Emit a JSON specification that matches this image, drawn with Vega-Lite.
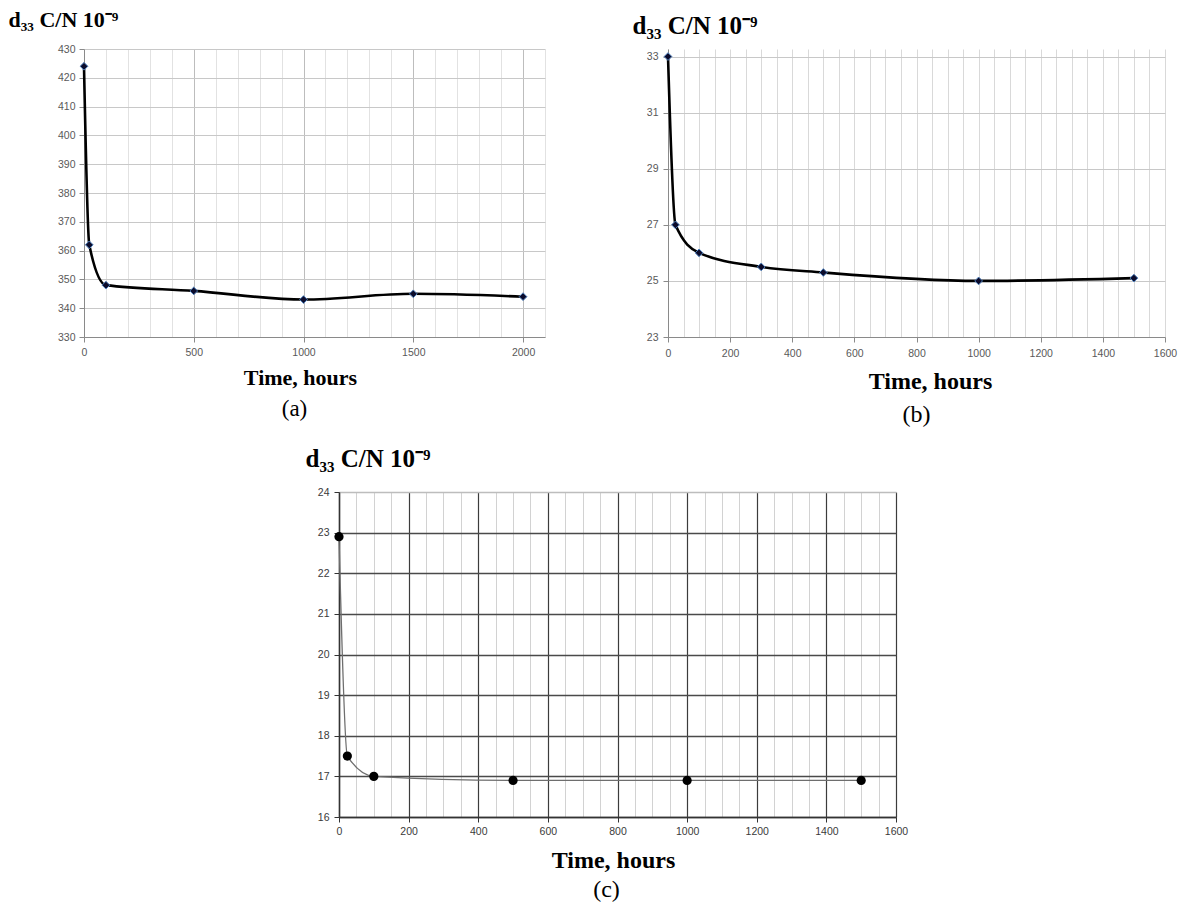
{
  "$schema": "https://vega.github.io/schema/vega-lite/v6.json",
  "background": "white",
  "padding": {"left": 8, "top": 8, "right": 2, "bottom": 0},
  "config": {"view": {"stroke": null}},
  "datasets": {
    "a": [
      {"t": 0, "d": 424}, {"t": 24, "d": 362}, {"t": 100, "d": 348}, {"t": 500, "d": 346},
      {"t": 1000, "d": 343}, {"t": 1500, "d": 345}, {"t": 2000, "d": 344}
    ],
    "b": [
      {"t": 0, "d": 33}, {"t": 24, "d": 27}, {"t": 100, "d": 26}, {"t": 300, "d": 25.5},
      {"t": 500, "d": 25.3}, {"t": 1000, "d": 25.0}, {"t": 1500, "d": 25.1}
    ],
    "c": [
      {"t": 0, "d": 22.9}, {"t": 24, "d": 17.5}, {"t": 100, "d": 17.0},
      {"t": 500, "d": 16.9}, {"t": 1000, "d": 16.9}, {"t": 1500, "d": 16.9}
    ]
  },
  "spacing": 19,
  "vconcat": [
    {
      "bounds": "flush",
      "spacing": 123,
      "hconcat": [
        {
          "width": 461, "height": 288,
          "data": {"name": "a"},
          "title": {"text": "(a)", "orient": "bottom", "anchor": "middle", "frame": "group", "font": "Liberation Serif", "fontSize": 23, "fontWeight": "normal", "color": "black", "offset": 10, "dx": -20},
          "encoding": {
            "x": {"field": "t", "type": "quantitative", "scale": {"domain": [0, 2100], "nice": false, "zero": false},
              "axis": {"values": [0,100,200,300,400,500,600,700,800,900,1000,1100,1200,1300,1400,1500,1600,1700,1800,1900,2000,2100],
                "format": "d", "labelExpr": "datum.value % 500 === 0 ? datum.label : ''",
                "labelFlush": false, "labelOverlap": false, "labelFont": "Liberation Sans", "labelFontSize": 10.5, "labelColor": "#595959", "labelPadding": 5,
                "tickSize": 5, "tickColor": "#8a8a8a", "tickOpacity": {"condition": {"test": "datum.value % 500 === 0", "value": 1}, "value": 0},
                "domainColor": "#8a8a8a",
                "gridColor": {"condition": {"test": "datum.value % 500 === 0", "value": "#bdbdbd"}, "value": "#e2e2e2"},
                "title": "Time, hours", "titleFont": "Liberation Serif", "titleFontSize": 22, "titleFontWeight": "bold", "titleColor": "black",
                "titleX": 216, "titleY": 47, "titleAlign": "center", "titleBaseline": "alphabetic"}},
            "y": {"field": "d", "type": "quantitative", "scale": {"domain": [330, 430], "nice": false, "zero": false},
              "axis": {"values": [330,340,350,360,370,380,390,400,410,420,430], "format": "d",
                "labelFont": "Liberation Sans", "labelFontSize": 10.5, "labelColor": "#595959", "labelPadding": 4,
                "tickSize": 5, "tickColor": "#8a8a8a", "domainColor": "#8a8a8a", "gridColor": "#c8c8c8",
                "title": "d₃₃ C/N 10⁻⁹", "titleFont": "Liberation Serif", "titleFontSize": 22, "titleFontWeight": "bold", "titleColor": "black",
                "titleAngle": 0, "titleAlign": "left", "titleBaseline": "alphabetic", "titleX": -76, "titleY": -23}}
          },
          "layer": [
            {"mark": {"type": "line", "interpolate": "monotone", "color": "black", "strokeWidth": 2.6}},
            {"mark": {"type": "point", "shape": "diamond", "filled": true, "size": 60, "fill": "#0b0b2b", "stroke": "#4f81bd", "strokeWidth": 1, "opacity": 1}}
          ]
        },
        {
          "width": 497, "height": 288,
          "data": {"name": "b"},
          "title": {"text": "(b)", "orient": "bottom", "anchor": "middle", "frame": "group", "font": "Liberation Serif", "fontSize": 24, "fontWeight": "normal", "color": "black", "offset": 10, "dx": 0},
          "encoding": {
            "x": {"field": "t", "type": "quantitative", "scale": {"domain": [0, 1600], "nice": false, "zero": false},
              "axis": {"values": [0,50,100,150,200,250,300,350,400,450,500,550,600,650,700,750,800,850,900,950,1000,1050,1100,1150,1200,1250,1300,1350,1400,1450,1500,1550,1600],
                "format": "d", "labelExpr": "datum.value % 200 === 0 ? datum.label : ''",
                "labelFlush": false, "labelOverlap": false, "labelFont": "Liberation Sans", "labelFontSize": 10.5, "labelColor": "#595959", "labelPadding": 6,
                "tickSize": 5, "tickColor": "#8a8a8a", "tickOpacity": {"condition": {"test": "datum.value % 200 === 0", "value": 1}, "value": 0},
                "domainColor": "#8a8a8a", "gridColor": "#d9d9d9",
                "title": "Time, hours", "titleFont": "Liberation Serif", "titleFontSize": 24, "titleFontWeight": "bold", "titleColor": "black",
                "titleX": 262, "titleY": 51, "titleAlign": "center", "titleBaseline": "alphabetic"}},
            "y": {"field": "d", "type": "quantitative", "scale": {"domain": [23, 33.27], "nice": false, "zero": false},
              "axis": {"values": [23,25,27,29,31,33], "format": "d",
                "labelFont": "Liberation Sans", "labelFontSize": 10.5, "labelColor": "#595959", "labelPadding": 5,
                "tickSize": 5, "tickColor": "#8a8a8a", "domainColor": "#8a8a8a", "gridColor": "#c8c8c8",
                "title": "d₃₃ C/N 10⁻⁹", "titleFont": "Liberation Serif", "titleFontSize": 25, "titleFontWeight": "bold", "titleColor": "black",
                "titleAngle": 0, "titleAlign": "left", "titleBaseline": "alphabetic", "titleX": -36, "titleY": -16}}
          },
          "layer": [
            {"mark": {"type": "line", "interpolate": "monotone", "color": "black", "strokeWidth": 2.6}},
            {"mark": {"type": "point", "shape": "diamond", "filled": true, "size": 60, "fill": "#0b0b2b", "stroke": "#4f81bd", "strokeWidth": 1, "opacity": 1}}
          ]
        }
      ]
    },
    {
      "bounds": "flush",
      "spacing": 123,
      "hconcat": [
        {
          "width": 132, "height": 1,
          "data": {"values": []},
          "mark": {"type": "point", "opacity": 0},
          "encoding": {}
        },
        {
          "width": 557, "height": 325,
          "data": {"name": "c"},
          "title": {"text": "(c)", "orient": "bottom", "anchor": "middle", "frame": "group", "font": "Liberation Serif", "fontSize": 24, "fontWeight": "normal", "color": "black", "offset": 6, "dx": -11},
          "encoding": {
            "x": {"field": "t", "type": "quantitative", "scale": {"domain": [0, 1600], "nice": false, "zero": false},
              "axis": {"values": [0,50,100,150,200,250,300,350,400,450,500,550,600,650,700,750,800,850,900,950,1000,1050,1100,1150,1200,1250,1300,1350,1400,1450,1500,1550,1600],
                "format": "d", "labelExpr": "datum.value % 200 === 0 ? datum.label : ''",
                "labelFlush": false, "labelOverlap": false, "labelFont": "Liberation Sans", "labelFontSize": 10.5, "labelColor": "#3a3a3a", "labelPadding": 4,
                "tickSize": 5, "tickColor": "#333333", "tickOpacity": {"condition": {"test": "datum.value % 200 === 0", "value": 1}, "value": 0},
                "domainColor": "#333333", "domainWidth": 1.5,
                "gridColor": {"condition": {"test": "datum.value % 200 === 0", "value": "#3c3c3c"}, "value": "#d2d2d2"},
                "gridWidth": {"condition": {"test": "datum.value % 200 === 0", "value": 1.2}, "value": 1},
                "title": "Time, hours", "titleFont": "Liberation Serif", "titleFontSize": 24, "titleFontWeight": "bold", "titleColor": "black",
                "titleX": 274, "titleY": 50, "titleAlign": "center", "titleBaseline": "alphabetic"}},
            "y": {"field": "d", "type": "quantitative", "scale": {"domain": [16, 24], "nice": false, "zero": false},
              "axis": {"values": [16,17,18,19,20,21,22,23,24], "format": "d",
                "labelFont": "Liberation Sans", "labelFontSize": 10.5, "labelColor": "#3a3a3a", "labelPadding": 5,
                "tickSize": 5, "tickColor": "#333333", "domainColor": "#333333", "domainWidth": 1.5,
                "gridColor": {"condition": {"test": "datum.value === 24", "value": "#bdbdbd"}, "value": "#4a4a4a"},
                "gridWidth": 1.4,
                "title": "d₃₃ C/N 10⁻⁹", "titleFont": "Liberation Serif", "titleFontSize": 25, "titleFontWeight": "bold", "titleColor": "black",
                "titleAngle": 0, "titleAlign": "left", "titleBaseline": "alphabetic", "titleX": -34, "titleY": -26}}
          },
          "layer": [
            {"mark": {"type": "line", "interpolate": "monotone", "color": "#6e6e6e", "strokeWidth": 1.3}},
            {"mark": {"type": "point", "shape": "circle", "filled": true, "size": 85, "color": "black", "opacity": 1}}
          ]
        }
      ]
    }
  ]
}
